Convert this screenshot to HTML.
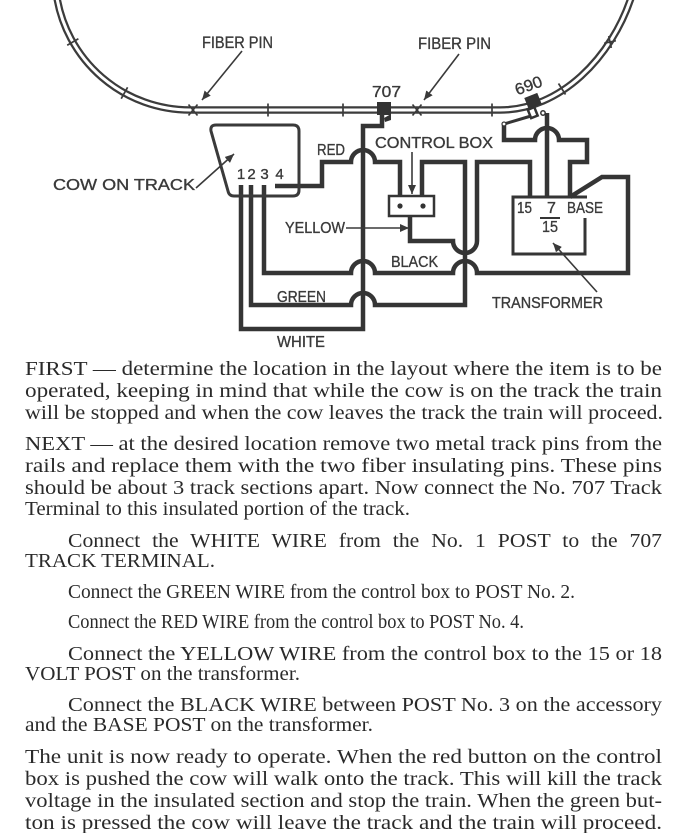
<!DOCTYPE html>
<html>
<head>
<meta charset="utf-8">
<style>
html,body{margin:0;padding:0;background:#fff;}
#wrap{position:relative;width:688px;height:833px;overflow:hidden;background:#fff;}
svg{position:absolute;left:0;top:0;display:block;}
</style>
</head>
<body>
<div id="wrap">
<svg width="688" height="833" viewBox="0 0 688 833" xmlns="http://www.w3.org/2000/svg">
<defs>
<marker id="ah" markerUnits="userSpaceOnUse" markerWidth="9" markerHeight="8" refX="9" refY="4" orient="auto" viewBox="0 0 9 8"><path d="M0,0 L9,4 L0,8 z" fill="#3a3a3a"/></marker>
</defs>

<!-- track -->
<path d="M56.5,-5 A135,135 0 0 0 190,110 L500,110 C560,110 612,58 632,-5" fill="none" stroke="#3c3c3c" stroke-width="7.5"/>
<path d="M56.5,-5 A135,135 0 0 0 190,110 L500,110 C560,110 612,58 632,-5" fill="none" stroke="#fff" stroke-width="3"/>
<g stroke="#3c3c3c" stroke-width="1.7" fill="none">
<line x1="67.2" y1="45.2" x2="78.4" y2="38.8"/>
<line x1="121.2" y1="98.7" x2="127.6" y2="87.3"/>
<line x1="268" y1="103.5" x2="268" y2="116.5"/>
<line x1="343" y1="103.5" x2="343" y2="116.5"/>
<line x1="492" y1="103.5" x2="492" y2="116.5"/>
<line x1="558.5" y1="83.5" x2="565.5" y2="94.5"/>
<line x1="604.1" y1="43.3" x2="615.9" y2="40.7"/>
<line x1="611.3" y1="47.9" x2="608.7" y2="36.1"/>
<line x1="188.5" y1="104.5" x2="197.5" y2="115.5"/>
<line x1="197.5" y1="104.5" x2="188.5" y2="115.5"/>
<line x1="412.5" y1="104.5" x2="421.5" y2="115.5"/>
<line x1="421.5" y1="104.5" x2="412.5" y2="115.5"/>
</g>

<!-- 707 terminal -->
<rect x="377" y="102" width="14" height="13" fill="#333"/>
<path d="M384,118 L391,114 L391,120 L385,122 z" fill="#333"/>

<!-- 690 terminal -->
<rect x="526" y="95" width="14" height="12" fill="#333" transform="rotate(-22 533 101)"/>
<rect x="529" y="108" width="7" height="9" fill="#fff" stroke="#333" stroke-width="2.5" transform="rotate(-22 533 112)"/>
<path d="M504,124 L531,116" stroke="#353535" stroke-width="3" fill="none"/>

<!-- wires -->
<g fill="none" stroke="#353535" stroke-width="4.5" stroke-linejoin="miter">
<path d="M241,185 V329 H363 V126 H382 V114"/>
<path d="M275,186 H322 V162 H351 A12,12 0 0 1 375,162 H400 V196"/>
<path d="M251,185 V305 H351 A12,12 0 0 1 375,305 H465 V162 H422 V196"/>
<path d="M264,185 V273 H351 A12,12 0 0 1 375,273 H453 A12,12 0 0 1 477,273 H628 V177 H602 L570,197"/>
<path d="M410,216 V241 H453 A12,12 0 0 0 477,241 V162 H530 V197"/>
<path d="M547,113 V197"/>
<path d="M504,124 V140 H535 A12,12 0 0 1 559,140 H587 V162 H570 V197"/>
</g>
<circle cx="504" cy="124" r="2" fill="#fff" stroke="#353535" stroke-width="1.2"/>
<circle cx="543" cy="113" r="2.2" fill="#fff" stroke="#333" stroke-width="1.5"/>

<!-- cow box -->
<path d="M216,125 H293 Q299,125 299,131 V190 Q299,196 293,196 H234 Q229,196 228,191 L211,131 Q210,125 216,125 Z" fill="none" stroke="#3a3a3a" stroke-width="3"/>

<!-- control box -->
<rect x="389" y="196" width="45" height="20" fill="#fff" stroke="#353535" stroke-width="2.5"/>
<circle cx="400" cy="206" r="2.6" fill="#333"/>
<circle cx="423" cy="206" r="2.6" fill="#333"/>

<!-- transformer -->
<path d="M585,218 V254 H513 V197 H587" fill="none" stroke="#353535" stroke-width="3"/>
<line x1="540" y1="218" x2="560" y2="218" stroke="#353535" stroke-width="2"/>

<!-- arrows -->
<g stroke="#3a3a3a" stroke-width="1.6" fill="none">
<path d="M242,51 L202,100" marker-end="url(#ah)"/>
<path d="M459,54 L424,100" marker-end="url(#ah)"/>
<path d="M196,188 L234,154" marker-end="url(#ah)"/>
<path d="M412,152 V194" marker-end="url(#ah)"/>
<path d="M346,228 H409" marker-end="url(#ah)"/>
<path d="M597,292 L553,243" marker-end="url(#ah)"/>
</g>

<!-- labels -->
<g font-family="Liberation Sans, sans-serif" font-size="16" fill="#3a3a3a" stroke="#3a3a3a" stroke-width="0.35">
<text x="202" y="48" font-size="17" textLength="71" lengthAdjust="spacingAndGlyphs">FIBER PIN</text>
<text x="418" y="49" font-size="17" textLength="73" lengthAdjust="spacingAndGlyphs">FIBER PIN</text>
<text x="372" y="97" textLength="29" lengthAdjust="spacingAndGlyphs">707</text>
<text x="514" y="91" textLength="28" lengthAdjust="spacingAndGlyphs" transform="rotate(-20 528 84)">690</text>
<text x="53" y="190" textLength="142" lengthAdjust="spacingAndGlyphs">COW ON TRACK</text>
<text x="241" y="179" font-size="15" text-anchor="middle">1</text>
<text x="251.5" y="179" font-size="15" text-anchor="middle">2</text>
<text x="264.5" y="179" font-size="15" text-anchor="middle">3</text>
<text x="279.5" y="179" font-size="15" text-anchor="middle">4</text>
<text x="317" y="155" textLength="28" lengthAdjust="spacingAndGlyphs">RED</text>
<text x="375" y="148" textLength="118" lengthAdjust="spacingAndGlyphs">CONTROL BOX</text>
<text x="285" y="233" textLength="60" lengthAdjust="spacingAndGlyphs">YELLOW</text>
<text x="391" y="267" textLength="47" lengthAdjust="spacingAndGlyphs">BLACK</text>
<text x="277" y="302" textLength="49" lengthAdjust="spacingAndGlyphs">GREEN</text>
<text x="277" y="347" textLength="48" lengthAdjust="spacingAndGlyphs">WHITE</text>
<text x="517" y="213" textLength="15" lengthAdjust="spacingAndGlyphs">15</text>
<text x="547" y="213">7</text>
<text x="542" y="232" textLength="16" lengthAdjust="spacingAndGlyphs">15</text>
<text x="567" y="213" textLength="36" lengthAdjust="spacingAndGlyphs">BASE</text>
<text x="492" y="308" textLength="111" lengthAdjust="spacingAndGlyphs">TRANSFORMER</text>
</g>

<!-- body text -->
<g font-family="Liberation Serif, serif" font-size="20" fill="#2a2a2a">
<text x="25" y="375" textLength="637" lengthAdjust="spacingAndGlyphs">FIRST — determine the location in the layout where the item is to be</text>
<text x="25" y="397" textLength="637" lengthAdjust="spacingAndGlyphs">operated, keeping in mind that while the cow is on the track the train</text>
<text x="25" y="419" textLength="638" lengthAdjust="spacingAndGlyphs">will be stopped and when the cow leaves the track the train will proceed.</text>
<text x="25" y="450" textLength="637" lengthAdjust="spacingAndGlyphs">NEXT — at the desired location remove two metal track pins from the</text>
<text x="25" y="472" textLength="637" lengthAdjust="spacingAndGlyphs">rails and replace them with the two fiber insulating pins. These pins</text>
<text x="25" y="494" textLength="637" lengthAdjust="spacingAndGlyphs">should be about 3 track sections apart. Now connect the No. 707 Track</text>
<text x="25" y="515" textLength="385" lengthAdjust="spacingAndGlyphs">Terminal to this insulated portion of the track.</text>
<text x="68" y="547" textLength="594" lengthAdjust="spacingAndGlyphs" word-spacing="6">Connect the WHITE WIRE from the No. 1 POST to the 707</text>
<text x="25" y="567" textLength="190" lengthAdjust="spacingAndGlyphs">TRACK TERMINAL.</text>
<text x="68" y="598" textLength="507" lengthAdjust="spacingAndGlyphs">Connect the GREEN WIRE from the control box to POST No. 2.</text>
<text x="68" y="628" textLength="456" lengthAdjust="spacingAndGlyphs">Connect the RED WIRE from the control box to POST No. 4.</text>
<text x="68" y="660" textLength="594" lengthAdjust="spacingAndGlyphs">Connect the YELLOW WIRE from the control box to the 15 or 18</text>
<text x="25" y="680" textLength="275" lengthAdjust="spacingAndGlyphs">VOLT POST on the transformer.</text>
<text x="68" y="711" textLength="594" lengthAdjust="spacingAndGlyphs">Connect the BLACK WIRE between POST No. 3 on the accessory</text>
<text x="25" y="731" textLength="348" lengthAdjust="spacingAndGlyphs">and the BASE POST on the transformer.</text>
<text x="25" y="763" textLength="637" lengthAdjust="spacingAndGlyphs">The unit is now ready to operate. When the red button on the control</text>
<text x="25" y="785" textLength="637" lengthAdjust="spacingAndGlyphs">box is pushed the cow will walk onto the track. This will kill the track</text>
<text x="25" y="807" textLength="637" lengthAdjust="spacingAndGlyphs">voltage in the insulated section and stop the train. When the green but-</text>
<text x="25" y="829" textLength="637" lengthAdjust="spacingAndGlyphs">ton is pressed the cow will leave the track and the train will proceed.</text>
</g>
</svg>
</div>
</body>
</html>
